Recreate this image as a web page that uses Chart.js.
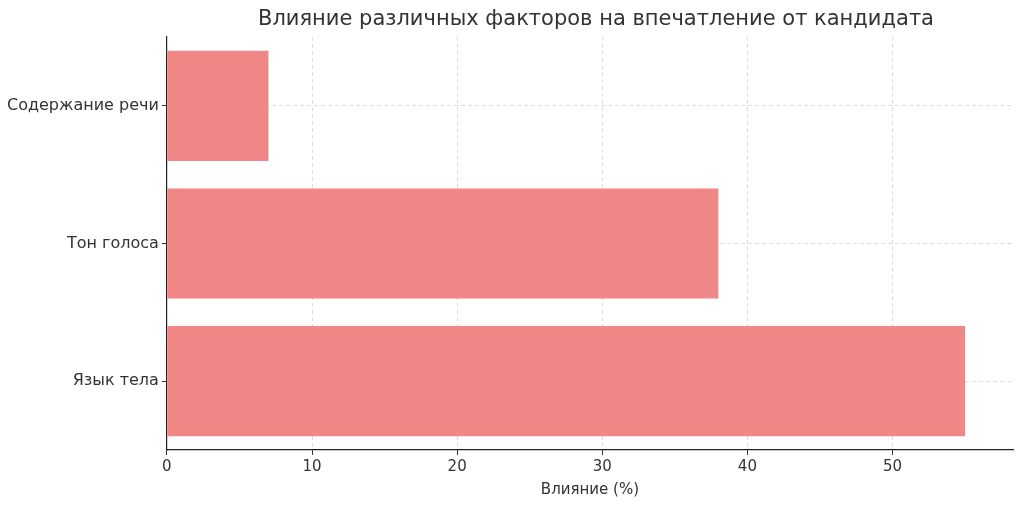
<!DOCTYPE html>
<html>
<head>
<meta charset="utf-8">
<script src="https://cdn.jsdelivr.net/npm/chart.js@4"></script>
<style>
  html, body { margin: 0; background: #fff; }
  #wrap { position: relative; width: 1024px; height: 507px; }
  #title { position: absolute; left: 179px; width: 834px; top: 6px; text-align: center;
           font: 21px 'DejaVu Sans', sans-serif; color: #333; }
</style>
</head>
<body>
<div id="wrap">
  <div id="title">Влияние различных факторов на впечатление от кандидата</div>
  <canvas id="chart"></canvas>
</div>
<script>
// Data
const categories = ["Содержание речи", "Тон голоса", "Язык тела"];
const influence = [7, 38, 55];
const xTicks = [0, 10, 20, 30, 40, 50];

const font = "'DejaVu Sans', sans-serif";

const ctx = document.getElementById("chart");

new Chart(ctx, {
  type: "bar",
  data: {
    labels: categories,
    datasets: [{
      data: influence,
      backgroundColor: "rgba(240,128,128,0.95)",
      borderWidth: 0,
      categoryPercentage: 0.8,
      barPercentage: 1.0
    }]
  },
  options: {
    indexAxis: "y",
    responsive: true,
    maintainAspectRatio: false,
    animation: false,
    layout: { padding: { top: 37, right: 11, bottom: 4, left: 4 } },
    plugins: {
      legend: { display: false },
      tooltip: { enabled: false }
    },
    scales: {
      x: {
        min: 0,
        max: 58.3,
        afterBuildTicks: axis => { axis.ticks = xTicks.map(v => ({ value: v })); },
        grid: { color: "#ddd", tickLength: 5, tickColor: "#333" },
        border: { color: "#222", width: 1.2, dash: [4, 3] },
        ticks: { color: "#333", font: { family: font, size: 15 }, padding: 3 },
        title: { display: true, text: "Влияние (%)", color: "#333", font: { family: font, size: 15 }, padding: { top: 2 } }
      },
      y: {
        grid: { offset: false, color: "#ddd", tickLength: 5, tickColor: "#333" },
        border: { color: "#222", width: 1.2, dash: [4, 3] },
        ticks: { color: "#333", font: { family: font, size: 16 }, padding: 3 }
      }
    }
  }
});
</script>
</body>
</html>
